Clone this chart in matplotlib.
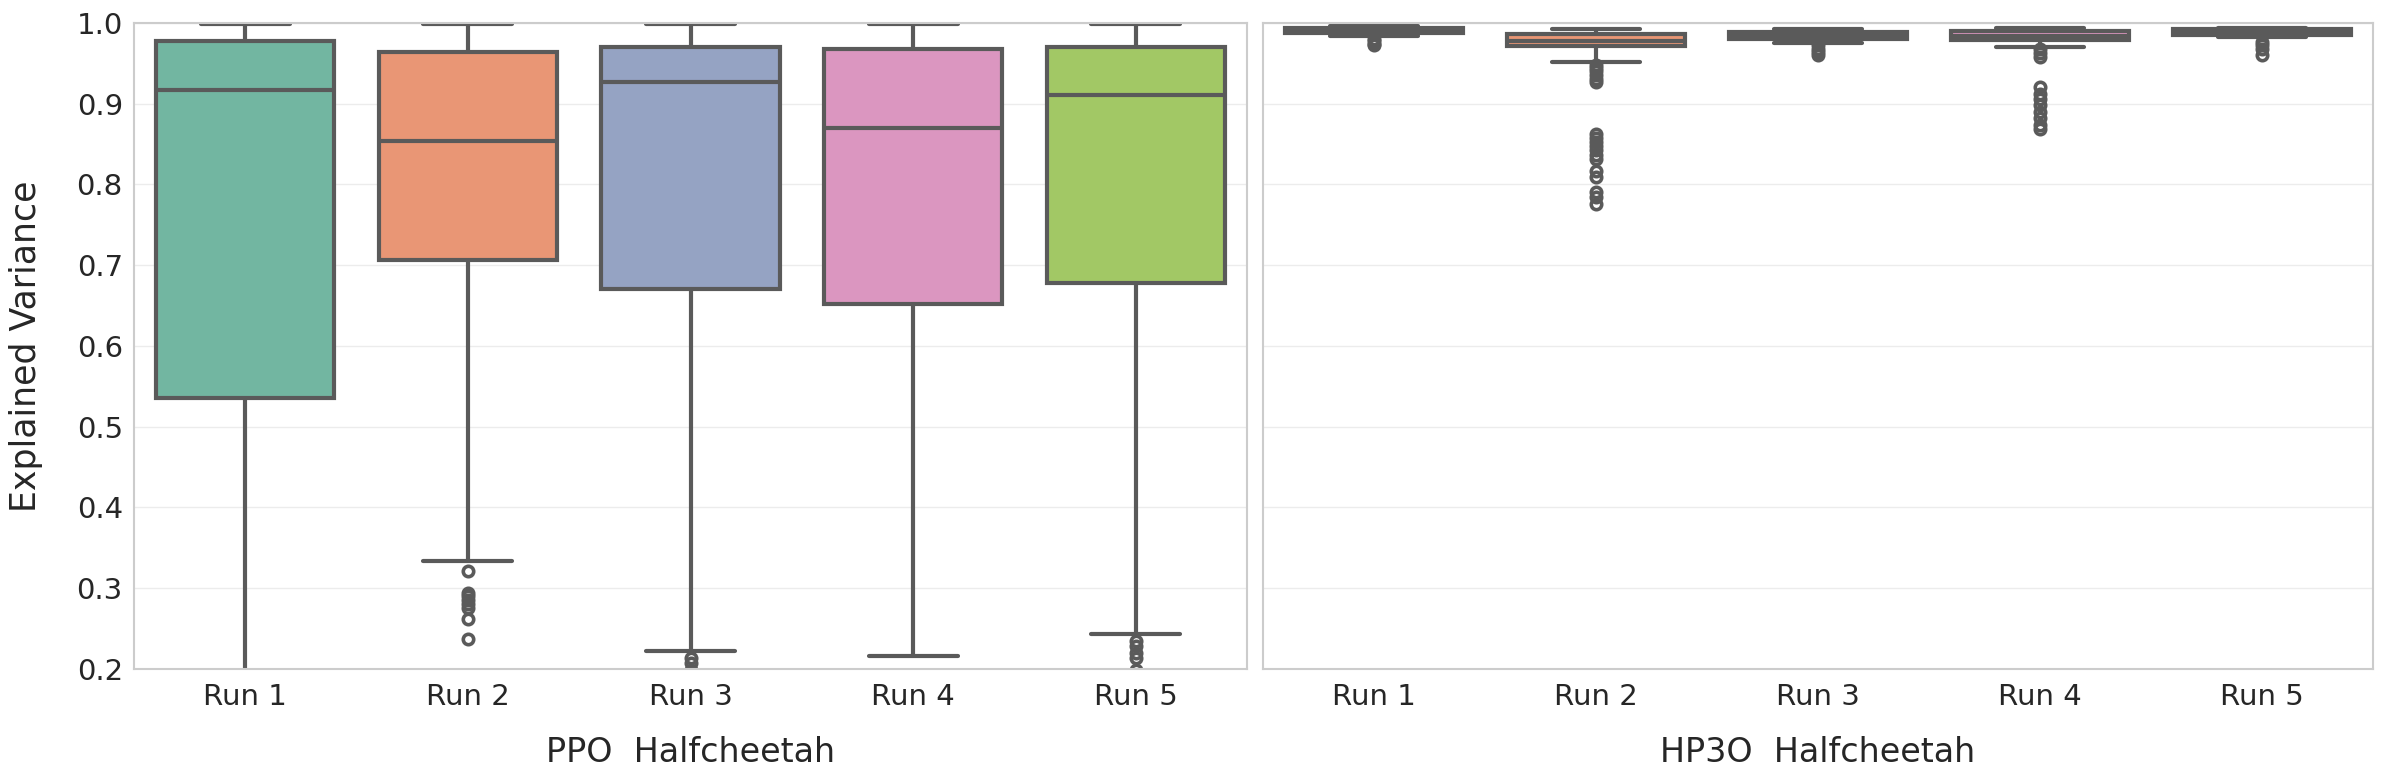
import matplotlib
matplotlib.use("Agg")
import matplotlib.pyplot as plt
import seaborn as sns

runs = ["Run 1", "Run 2", "Run 3", "Run 4", "Run 5"]

# PPO Halfcheetah - box statistics
ppo_q1 = [0.535, 0.706, 0.671, 0.652, 0.678]
ppo_med = [0.917, 0.853, 0.927, 0.870, 0.910]
ppo_q3 = [0.977, 0.964, 0.970, 0.968, 0.970]
ppo_lo = [0.05, 0.334, 0.222, 0.216, 0.243]
ppo_hi = [0.998, 0.998, 0.998, 0.998, 0.998]
ppo_fliers = [
    [],
    [0.321, 0.294, 0.290, 0.285, 0.280, 0.276, 0.262, 0.237],
    [0.213, 0.207, 0.199],
    [],
    [0.235, 0.228, 0.220, 0.214, 0.199],
]

# HP3O Halfcheetah
hp3o_q1 = [0.987, 0.971, 0.980, 0.979, 0.985]
hp3o_med = [0.990, 0.978, 0.985, 0.984, 0.989]
hp3o_q3 = [0.9935, 0.986, 0.989, 0.990, 0.992]
hp3o_lo = [0.984, 0.951, 0.975, 0.970, 0.982]
hp3o_hi = [0.9965, 0.992, 0.992, 0.993, 0.993]
hp3o_fliers = [
    [0.980, 0.977, 0.974, 0.972],
    [0.948, 0.944, 0.940, 0.935, 0.930, 0.927,
     0.862, 0.857, 0.852, 0.847, 0.842, 0.836, 0.831,
     0.816, 0.809, 0.790, 0.784, 0.775],
    [0.972, 0.968, 0.964, 0.960],
    [0.967, 0.962, 0.957, 0.920, 0.912, 0.905, 0.898, 0.890, 0.882, 0.874, 0.869],
    [0.976, 0.972, 0.968, 0.960],
]

sns.set_style("whitegrid")
colors = [sns.desaturate(c, 0.75) for c in sns.color_palette("Set2", 5)]
gray = "#5a5a5a"

fig = plt.figure(figsize=(23.84, 7.84), dpi=100)
ax1 = fig.add_axes([0.0562, 0.1467, 0.4669, 0.8243])
ax2 = fig.add_axes([0.5298, 0.1467, 0.4656, 0.8243], sharey=ax1)


def draw(ax, q1, med, q3, lo, hi, fliers, title):
    stats = []
    for i in range(len(runs)):
        stats.append(dict(q1=q1[i], med=med[i], q3=q3[i], whislo=lo[i],
                          whishi=hi[i], fliers=fliers[i], label=runs[i]))
    bp = ax.bxp(stats, positions=range(5), widths=0.8, patch_artist=True,
                showfliers=True, capwidths=0.4,
                boxprops=dict(edgecolor=gray, linewidth=3),
                medianprops=dict(color=gray, linewidth=3),
                whiskerprops=dict(color=gray, linewidth=3),
                capprops=dict(color=gray, linewidth=3),
                flierprops=dict(marker="o", markerfacecolor="none",
                                markeredgecolor=gray, markersize=7.5,
                                markeredgewidth=2.6))
    for patch, c in zip(bp["boxes"], colors):
        patch.set_facecolor(c)
    ax.set_xlim(-0.5, 4.5)
    ax.set_xticks(range(5))
    ax.set_xticklabels(runs)
    ax.set_xlabel(title, fontsize=24, labelpad=18)
    ax.grid(axis="x", visible=False)
    ax.grid(axis="y", color="#ececec", linewidth=1)
    for s in ax.spines.values():
        s.set_color("#cccccc")
        s.set_linewidth(1.5)
    ax.tick_params(axis="both", labelsize=21, colors="#262626", length=0)


draw(ax1, ppo_q1, ppo_med, ppo_q3, ppo_lo, ppo_hi, ppo_fliers, "PPO  Halfcheetah")
draw(ax2, hp3o_q1, hp3o_med, hp3o_q3, hp3o_lo, hp3o_hi, hp3o_fliers, "HP3O  Halfcheetah")

ax1.set_ylim(0.2, 1.0)
ax1.set_yticks([0.2, 0.3, 0.4, 0.5, 0.6, 0.7, 0.8, 0.9, 1.0])
ax1.set_yticklabels(["0.2", "0.3", "0.4", "0.5", "0.6", "0.7", "0.8", "0.9", "1.0"])
ax1.set_ylabel("Explained Variance", fontsize=25, labelpad=24)
ax2.tick_params(axis="y", labelleft=False)
ax1.tick_params(axis="y", pad=8)
ax1.tick_params(axis="x", pad=10)
ax2.tick_params(axis="x", pad=10)

fig.savefig("out.png", dpi=100)
